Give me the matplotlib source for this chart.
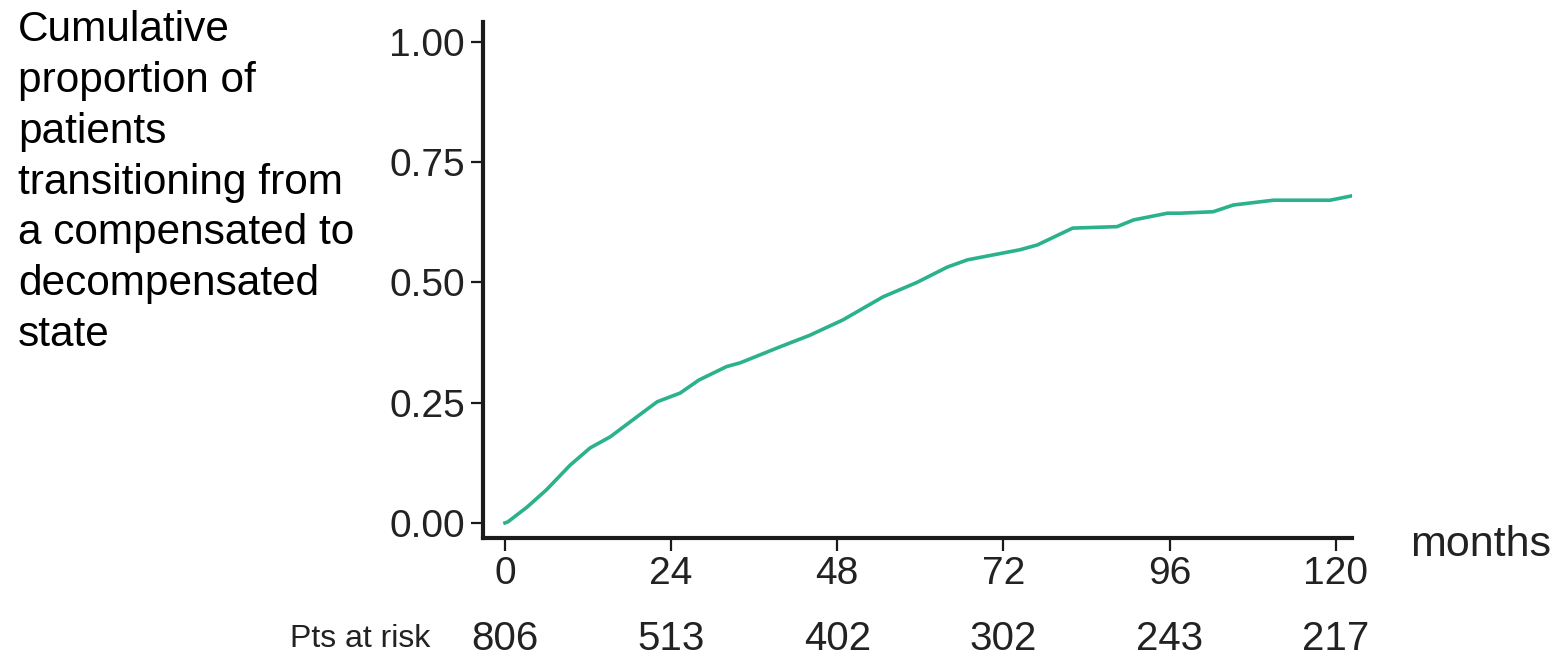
import matplotlib
matplotlib.use('Agg')
import matplotlib.pyplot as plt
import matplotlib.transforms as mtransforms

plt.rcParams['font.family'] = ['Liberation Sans', 'DejaVu Sans']

# cumulative proportion
months = [0, 0.4, 3.2, 6, 9.4, 12.3, 15.2, 19, 22, 25.3, 28, 32, 34, 39.7,
          44, 48.8, 54.6, 59.5, 63.9, 66.8, 74.4, 76.9, 82, 88.4, 90.8, 95.7,
          97.5, 102.3, 105.2, 111, 119.2, 122.3]
cum_prop = [0, 0.002, 0.033, 0.069, 0.12, 0.156, 0.179, 0.22, 0.252, 0.27,
            0.297, 0.325, 0.333, 0.366, 0.39, 0.422, 0.47, 0.50, 0.532, 0.547,
            0.568, 0.578, 0.613, 0.616, 0.63, 0.644, 0.644, 0.647, 0.661,
            0.671, 0.671, 0.68]

x_ticks = [0, 24, 48, 72, 96, 120]
y_ticks = [0.0, 0.25, 0.5, 0.75, 1.0]
at_risk = [806, 513, 402, 302, 243, 217]

ylabel = ('Cumulative\nproportion of\npatients\ntransitioning from\n'
          'a compensated to\ndecompensated\nstate')


def main():
    fig = plt.figure(figsize=(15.58, 6.56), dpi=100)
    ax = fig.add_axes([0.310, 0.180, 0.558, 0.7865])

    ax.plot(months, cum_prop, color='#2bb28c', lw=2.6)

    ax.set_xlim(-3.18, 122.4)
    ax.set_ylim(-0.0312, 1.0416)
    ax.set_xticks(x_ticks)
    ax.set_yticks(y_ticks)
    ax.set_yticklabels([f'{v:.2f}' for v in y_ticks])

    for side in ['top', 'right']:
        ax.spines[side].set_visible(False)
    for side in ['left', 'bottom']:
        ax.spines[side].set_linewidth(3.0)
        ax.spines[side].set_color('#1a1a1a')

    ax.tick_params(axis='both', direction='out', length=9, width=1.6,
                   color='#1a1a1a', labelsize=28, labelcolor='#222222', pad=4)

    # y axis title as a block of text at the left
    fig.text(18 / 1558, 1 - 10 / 656, ylabel, ha='left', va='top',
             fontsize=30.5, linespacing=1.35, color='black')

    fig.text(1410 / 1558, 1 - 545 / 656, 'months', ha='left', va='center',
             fontsize=31, color='#222222')

    # patients at risk row
    trans = mtransforms.blended_transform_factory(ax.transData, fig.transFigure)
    for m, n in zip(x_ticks, at_risk):
        ax.text(m, 1 - 639 / 656, str(n), transform=trans, ha='center',
                va='center', fontsize=29, color='#222222')
    fig.text(430 / 1558, 1 - 639 / 656, 'Pts at risk', ha='right',
             va='center', fontsize=23, color='#222222')

    fig.savefig('out.png', dpi=100)


if __name__ == '__main__':
    main()
